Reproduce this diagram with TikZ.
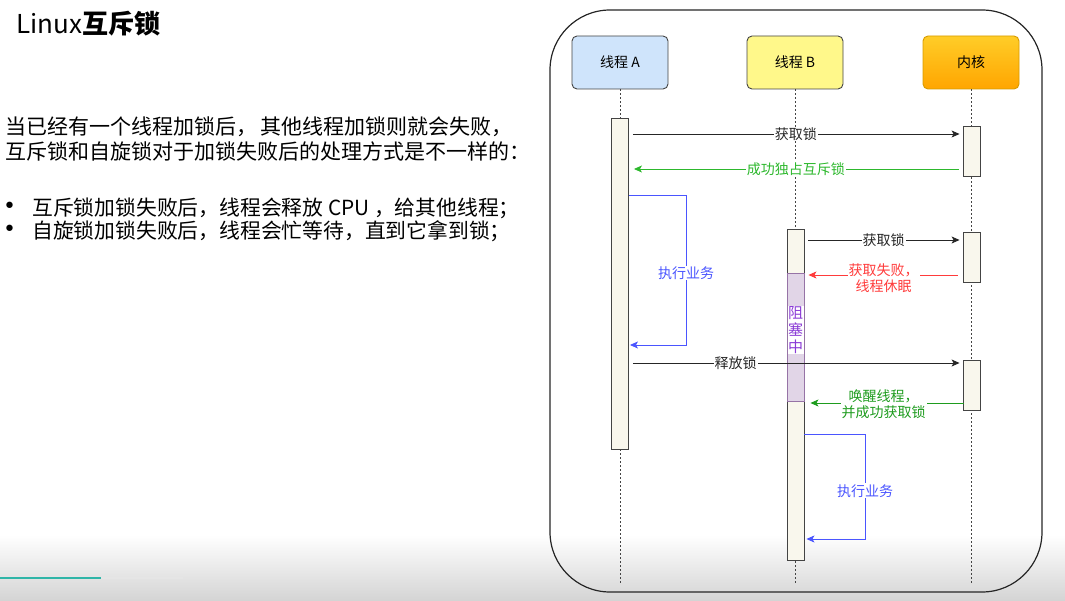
\documentclass[tikz,border=0pt]{standalone}
\usepackage{fontspec}
\setmainfont{Noto Sans CJK SC}
\newfontfamily\dvsans{DejaVu Sans}
\usetikzlibrary{arrows.meta}
\definecolor{boxA}{HTML}{CFE4FB}
\definecolor{boxB}{HTML}{FFF88A}
\definecolor{orTop}{HTML}{FFCD28}
\definecolor{orBot}{HTML}{FFA500}
\definecolor{orLine}{HTML}{D79B00}
\definecolor{actFill}{HTML}{F9F7ED}
\definecolor{edge}{HTML}{444444}
\definecolor{purFill}{HTML}{E1D5E7}
\definecolor{purLine}{HTML}{9673A6}
\definecolor{purText}{HTML}{8A3AD6}
\definecolor{greenA}{HTML}{2DB82D}
\definecolor{greenB}{HTML}{1E9C1E}
\definecolor{redM}{HTML}{FF3B3B}
\definecolor{blueM}{HTML}{4A55FF}
\definecolor{teal}{HTML}{2FB5A8}
\tikzset{
  actor/.style={draw=edge, line width=0.9pt, rounded corners=5pt, minimum width=96pt, minimum height=53pt, font=\fontsize{14}{17}\selectfont},
  actbar/.style={draw=edge, line width=0.9pt, fill=actFill, minimum width=17pt, inner sep=0pt},
  lifeline/.style={draw=edge, line width=0.9pt, dash pattern=on 2pt off 2pt},
  msg/.style={line width=0.8pt, -{Stealth[length=8pt,width=7pt,inset=2pt]}},
  mlabel/.style={fill=white, inner sep=1pt, font=\fontsize{14}{16.5}\selectfont},
  bullet/.style={anchor=west, inner sep=0pt, font=\dvsans\fontsize{22}{24}\selectfont},
  bodyline/.style={anchor=west, inner sep=0pt, font=\fontsize{20.8}{24}\selectfont},
}
\begin{document}
\begin{tikzpicture}[x=1pt,y=-1pt]
\useasboundingbox (0,0) rectangle (1065,601);
% bottom video gradient
\shade[top color=white, bottom color=black!17] (0,535) rectangle (1065,601);
\draw[teal, line width=2pt] (0,578) -- (101,578);
\draw[black!10, line width=2pt] (101,578) -- (183,578);

% left text
\node[anchor=west, inner sep=0pt, font=\fontsize{26}{30}\selectfont] (title) at (16,24) {Linux\textbf{互斥锁}};
\node[anchor=north west, inner sep=0pt, align=left, font=\fontsize{21}{25}\selectfont] (para) at (5,117)
  {当已经有一个线程加锁后，\hspace{3pt}其他线程加锁则就会失败，\\互斥锁和自旋锁对于加锁失败后的处理方式是不一样的：};
\node[bullet] (b1) at (3,208) {•};
\node[bullet] (b2) at (3,231) {•};
\node[bodyline] (t1) at (32,208) {互斥锁加锁失败后，线程会释放 CPU ，给其他线程；};
\node[bodyline] (t2) at (32,231) {自旋锁加锁失败后，线程会忙等待，直到它拿到锁；};

% outer frame
\draw[black!85, line width=1.2pt, rounded corners=60pt] (550,10) rectangle (1042,592);

% actors
\node[actor, fill=boxA] (A) at (620,62.5) {线程 \textit{A}};
\node[actor, fill=boxB] (B) at (795,62.5) {线程 B};
\node[actor, draw=orLine, top color=orTop, bottom color=orBot] (K) at (971,62.5) {内核};

% lifelines
\coordinate (Aend) at (620,583);
\coordinate (Bend) at (795,583);
\coordinate (Kend) at (971,583);
\draw[lifeline] (A.south) -- (Aend);
\draw[lifeline] (B.south) -- (Bend);
\draw[lifeline] (K.south) -- (Kend);

% activation bars
\node[actbar, minimum height=331pt] (actA) at (620,283.5) {};
\node[actbar, minimum height=331pt] (actB) at (795.5,394.5) {};
\node[actbar, minimum height=50pt] (k1) at (971.5,151) {};
\node[actbar, minimum height=50pt] (k2) at (971.5,257) {};
\node[actbar, minimum height=50pt] (k3) at (971.5,385) {};
\node[draw=purLine, line width=0.9pt, fill=purFill, minimum width=17pt, minimum height=128pt, inner sep=0pt] (blk) at (795.5,337) {};
\node[fill=white, inner sep=0.5pt, text=purText, align=center, font=\fontsize{15}{17}\selectfont] (blkt) at (795.5,330) {阻\\塞\\中};

% messages
\draw[msg, black!85, shorten <=4pt, shorten >=3pt] (actA.east |- 0,134) -- (k1.west |- 0,134)
  node[mlabel, text=black!85, midway] {获取锁};
\draw[msg, greenA, shorten <=4pt, shorten >=5pt] (k1.west |- 0,169) -- (actA.east |- 0,169)
  node[mlabel, text=greenA, midway] {成功独占互斥锁};
\draw[msg, blueM] (actA.east |- 0,195) -- (686,195) -- (686,345)
  node[mlabel, text=blueM, pos=0.52] {执行业务} -- ([xshift=1pt]actA.east |- 0,345);

\draw[msg, black!85, shorten <=4pt, shorten >=3pt] (actB.east |- 0,240) -- (k2.west |- 0,240)
  node[mlabel, text=black!85, midway] {获取锁};
\draw[msg, redM, shorten <=5pt, shorten >=4pt] (k2.west |- 0,275) -- (blk.east |- 0,275)
  node[mlabel, text=redM, midway, align=center, yshift=-3pt] {获取失败，\\线程休眠};
\draw[msg, black!85, shorten <=4pt, shorten >=3pt] (actA.east |- 0,363) -- (k3.west |- 0,363)
  node[mlabel, text=black!85, pos=0.32] {释放锁};
\draw[msg, greenB, shorten <=-1pt, shorten >=6pt] (k3.west |- 0,403) -- (actB.east |- 0,403)
  node[mlabel, text=greenB, midway, align=center, yshift=-1pt] {唤醒线程，\\并成功获取锁};
\draw[msg, blueM] (actB.east |- 0,434) -- (865,434) -- (865,539)
  node[mlabel, text=blueM, pos=0.54] {执行业务} -- ([xshift=2pt]actB.east |- 0,539);
\end{tikzpicture}
\end{document}
